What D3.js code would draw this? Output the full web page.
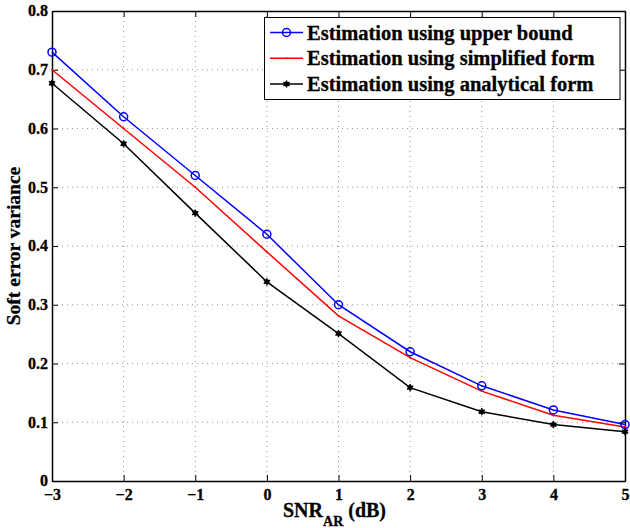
<!DOCTYPE html>
<html>
<head>
<meta charset="utf-8">
<script src="https://cdn.jsdelivr.net/npm/d3@7"></script>
<style>
  body { margin: 0; background: #fff; }
  text { font-family: "Liberation Serif", "Times New Roman", serif; font-weight: bold; }
</style>
</head>
<body>
<div id="chart"></div>
<script>
// data
var snr = [-3, -2, -1, 0, 1, 2, 3, 4, 5];
var upperBound = [0.73, 0.62, 0.52, 0.42, 0.30, 0.22, 0.162, 0.121, 0.096];
var simplified = [0.70, 0.60, 0.50, 0.39, 0.281, 0.21, 0.153, 0.112, 0.092];
var analytical = [0.677, 0.574, 0.456, 0.339, 0.251, 0.159, 0.118, 0.096, 0.084];
var xTicks = [-3, -2, -1, 0, 1, 2, 3, 4, 5];
var yTicks = [0, 0.1, 0.2, 0.3, 0.4, 0.5, 0.6, 0.7, 0.8];
var legendLabels = ["Estimation using upper bound", "Estimation using simplified form", "Estimation using analytical form"];

var w = 630, h = 528;
var mL = 52, mR = 625, mT = 11, mB = 481;

var svg = d3.select("#chart").append("svg")
    .attr("width", w)
    .attr("height", h);

var x = d3.scaleLinear().domain([-3, 5]).range([mL, mR]);
var y = d3.scaleLinear().domain([0, 0.8]).range([mB, mT]);

// grid
svg.selectAll("line.gx")
   .data(xTicks.slice(1, -1)).enter()
   .append("line")
   .attr("x1", function (d) { return x(d); })
   .attr("x2", function (d) { return x(d); })
   .attr("y1", mT).attr("y2", mB)
   .attr("stroke", "#999").attr("stroke-width", 1)
   .attr("stroke-dasharray", "1,4");
svg.selectAll("line.gy")
   .data(yTicks.slice(1, -1)).enter()
   .append("line")
   .attr("y1", function (d) { return y(d); })
   .attr("y2", function (d) { return y(d); })
   .attr("x1", mL).attr("x2", mR)
   .attr("stroke", "#999").attr("stroke-width", 1)
   .attr("stroke-dasharray", "1,4");

// axes (ticks inside, box style)
var fmtY = function (d) { return d === 0 ? "0" : d3.format(".1f")(d); };
var fmtX = function (d) { return d < 0 ? "\u2212" + Math.abs(d) : d; };

var gx = svg.append("g").attr("transform", "translate(0," + mB + ")")
    .call(d3.axisBottom(x).tickValues(xTicks).tickSizeInner(-6).tickSizeOuter(0).tickPadding(8).tickFormat(fmtX));
var gxt = svg.append("g").attr("transform", "translate(0," + mT + ")")
    .call(d3.axisTop(x).tickValues(xTicks).tickSizeInner(-6).tickSizeOuter(0).tickFormat(""));
var gy = svg.append("g").attr("transform", "translate(" + mL + ",0)")
    .call(d3.axisLeft(y).tickValues(yTicks).tickSizeInner(-6).tickSizeOuter(0).tickPadding(4).tickFormat(fmtY));
var gyr = svg.append("g").attr("transform", "translate(" + mR + ",0)")
    .call(d3.axisRight(y).tickValues(yTicks).tickSizeInner(-6).tickSizeOuter(0).tickFormat(""));

[gx, gxt, gy, gyr].forEach(function (g) {
    g.select(".domain").attr("stroke", "#000").attr("stroke-width", 1.5);
    g.selectAll(".tick line").attr("stroke", "#000").attr("stroke-width", 1);
    g.selectAll("text").attr("fill", "#000").style("font-size", "16px")
     .style("font-family", "'Liberation Serif', serif").style("font-weight", "bold")
     .attr("stroke", "#000").attr("stroke-width", 0.3);
});
gx.selectAll("text").attr("dy", "0.71em");
gy.selectAll("text").attr("dy", "0.3em");

// lines
var line = d3.line()
    .x(function (d, i) { return x(snr[i]); })
    .y(function (d) { return y(d); });

svg.append("path").datum(upperBound)
   .attr("d", line).attr("fill", "none").attr("stroke", "#0000ff").attr("stroke-width", 1.5);
svg.append("path").datum(simplified)
   .attr("d", line).attr("fill", "none").attr("stroke", "#ff0000").attr("stroke-width", 1.5);
svg.append("path").datum(analytical)
   .attr("d", line).attr("fill", "none").attr("stroke", "#000000").attr("stroke-width", 1.5);

// markers
svg.selectAll("circle.ub")
   .data(upperBound).enter()
   .append("circle")
   .attr("cx", function (d, i) { return x(snr[i]); })
   .attr("cy", function (d) { return y(d); })
   .attr("r", 4).attr("fill", "none").attr("stroke", "#0000ff").attr("stroke-width", 1.5);

svg.selectAll("circle.sf")
   .data(simplified).enter()
   .append("circle")
   .attr("cx", function (d, i) { return x(snr[i]); })
   .attr("cy", function (d) { return y(d); })
   .attr("r", 1).attr("fill", "#ff0000");

var star = d3.symbol().type(d3.symbolAsterisk).size(36);
svg.selectAll("path.af")
   .data(analytical).enter()
   .append("path")
   .attr("d", star)
   .attr("transform", function (d, i) { return "translate(" + x(snr[i]) + "," + y(d) + ")"; })
   .attr("stroke", "#000").attr("stroke-width", 1.5).attr("fill", "#000");
svg.selectAll("circle.af")
   .data(analytical).enter()
   .append("circle")
   .attr("cx", function (d, i) { return x(snr[i]); })
   .attr("cy", function (d) { return y(d); })
   .attr("r", 2.5).attr("fill", "#000");

// axis labels
svg.append("text")
   .attr("transform", "translate(20," + ((mT + mB) / 2) + ") rotate(-90)")
   .attr("text-anchor", "middle")
   .attr("stroke", "#000").attr("stroke-width", 0.3)
   .style("font-size", "19.5px")
   .text("Soft error variance");

var xl = svg.append("text")
   .attr("x", 283).attr("y", 516.5)
   .attr("stroke", "#000").attr("stroke-width", 0.3)
   .style("font-size", "20px");
xl.append("tspan").text("SNR");
xl.append("tspan").attr("dy", 9).style("font-size", "14px").text("AR");
xl.append("tspan").attr("dy", -9).text(" (dB)");

// legend
var lg = svg.append("g");
lg.append("rect")
  .attr("x", 264.5).attr("y", 17.5).attr("width", 355.5).attr("height", 82)
  .attr("fill", "#fff").attr("stroke", "#000").attr("stroke-width", 1);
var legColors = ["#0000ff", "#ff0000", "#000000"];
var legY = [32.5, 58.3, 84];
legendLabels.forEach(function (lab, i) {
    lg.append("line").attr("x1", 270).attr("x2", 303)
      .attr("y1", legY[i]).attr("y2", legY[i])
      .attr("stroke", legColors[i]).attr("stroke-width", 1.5);
    lg.append("text").attr("x", 307).attr("y", legY[i]).attr("dy", "0.35em")
      .attr("stroke", "#000").attr("stroke-width", 0.3)
      .style("font-size", "20.5px").text(lab);
});
lg.append("circle").attr("cx", 286.5).attr("cy", legY[0]).attr("r", 4)
  .attr("fill", "none").attr("stroke", "#0000ff").attr("stroke-width", 1.5);
lg.append("circle").attr("cx", 286.5).attr("cy", legY[1]).attr("r", 1).attr("fill", "#ff0000");
lg.append("circle").attr("cx", 286.5).attr("cy", legY[2]).attr("r", 2.5).attr("fill", "#000");
lg.append("path").attr("d", star).attr("transform", "translate(286.5," + legY[2] + ")")
  .attr("stroke", "#000").attr("stroke-width", 1.5);
</script>
</body>
</html>
